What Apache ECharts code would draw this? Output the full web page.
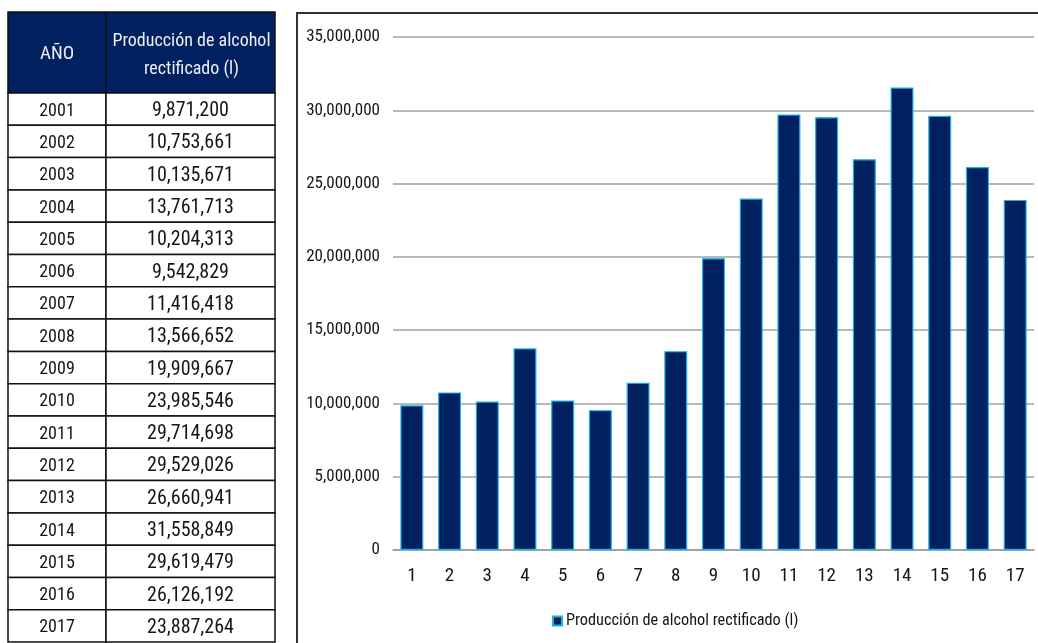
<!DOCTYPE html>
<html>
<head>
<meta charset="utf-8">
<title>Producción de alcohol rectificado</title>
<script src="https://cdn.jsdelivr.net/npm/echarts@6/dist/echarts.min.js"></script>
<style>
  html, body { margin: 0; padding: 0; background: #ffffff; }
  #chart { width: 1038px; height: 643px; }
</style>
</head>
<body>
<div id="chart"></div>
<script>
// Annual production of rectified alcohol (litres), 2001-2017
const years = [2001, 2002, 2003, 2004, 2005, 2006, 2007, 2008, 2009, 2010, 2011, 2012, 2013, 2014, 2015, 2016, 2017];
const production = [9871200, 10753661, 10135671, 13761713, 10204313, 9542829, 11416418, 13566652, 19909667, 23985546, 29714698, 29529026, 26660941, 31558849, 29619479, 26126192, 23887264];
const barLabels = ['1', '2', '3', '4', '5', '6', '7', '8', '9', '10', '11', '12', '13', '14', '15', '16', '17'];
const headerYear = 'AÑO';
const headerValue = ['Producción de alcohol', 'rectificado (l)'];
const seriesName = 'Producción de alcohol rectificado (l)';

// narrow sans: Roboto drawn with its condensed width
const FAMILY = 'Roboto';
const STRETCH = 'condensed';
const font = size => STRETCH + ' ' + size + 'px ' + FAMILY;
const NAVY = '#002060';
const EDGE = '#19b4ea';
const INK = '#161616';
const fmt = v => Number(v).toLocaleString('en-US');

// ---- data table on the left ----
const tbl = { left: 8, mid: 106, right: 275, top: 12, headBottom: 93, rowH: 32.3 };
const tableEls = [];
tableEls.push({
  type: 'rect',
  shape: { x: tbl.left, y: tbl.top, width: tbl.right - tbl.left, height: tbl.headBottom - tbl.top },
  style: { fill: NAVY, stroke: '#111', lineWidth: 1.5 }
});
tableEls.push({
  type: 'line',
  shape: { x1: tbl.mid, y1: tbl.top, x2: tbl.mid, y2: tbl.headBottom },
  style: { stroke: '#111', lineWidth: 1.5 }
});
tableEls.push({
  type: 'text', x: (tbl.left + tbl.mid) / 2, y: (tbl.top + tbl.headBottom) / 2 + 2,
  style: { text: headerYear, fill: '#eceef5', font: font(19), align: 'center', verticalAlign: 'middle' }
});
headerValue.forEach((line, i) => {
  tableEls.push({
    type: 'text', x: (tbl.mid + tbl.right) / 2 + 1, y: 41 + i * 28,
    style: { text: line, fill: '#eceef5', font: font(18), align: 'center', verticalAlign: 'middle' }
  });
});
years.forEach((yr, i) => {
  const top = tbl.headBottom + i * tbl.rowH;
  tableEls.push({
    type: 'rect',
    shape: { x: tbl.left, y: top, width: tbl.mid - tbl.left, height: tbl.rowH },
    style: { fill: '#fff', stroke: '#111', lineWidth: 1.5 }
  });
  tableEls.push({
    type: 'rect',
    shape: { x: tbl.mid, y: top, width: tbl.right - tbl.mid, height: tbl.rowH },
    style: { fill: '#fff', stroke: '#111', lineWidth: 1.5 }
  });
  tableEls.push({
    type: 'text', x: (tbl.left + tbl.mid) / 2, y: top + tbl.rowH / 2 + 2,
    style: { text: String(yr), fill: INK, font: font(18), align: 'center', verticalAlign: 'middle' }
  });
  tableEls.push({
    type: 'text', x: (tbl.mid + tbl.right) / 2, y: top + tbl.rowH / 2 + 2,
    style: { text: fmt(production[i]), fill: INK, font: font(20), align: 'center', verticalAlign: 'middle' }
  });
});

// chart frame on the right
tableEls.push({
  type: 'rect', z: -10,
  shape: { x: 297, y: 13, width: 800, height: 700 },
  style: { fill: '#fff', stroke: '#333', lineWidth: 2 }
});

const labelFont = { fontFamily: FAMILY, fontWeight: STRETCH, color: INK };

const chart = echarts.init(document.getElementById('chart'), null, { renderer: 'canvas' });
chart.setOption({
  animation: false,
  backgroundColor: '#ffffff',
  graphic: { elements: tableEls },
  grid: { left: 393, right: 4, top: 37, bottom: 93, containLabel: false },
  legend: {
    data: [seriesName],
    left: 547, top: 608,
    itemWidth: 9, itemHeight: 9, itemGap: 4,
    icon: 'rect',
    textStyle: Object.assign({ fontSize: 16.3, padding: [0, 0, 0, -1] }, labelFont)
  },
  xAxis: {
    type: 'category',
    data: barLabels,
    axisLine: { lineStyle: { color: '#9a9a9a', width: 1.5 } },
    axisTick: { show: false },
    axisLabel: Object.assign({ fontSize: 19, margin: 17 }, labelFont)
  },
  yAxis: {
    type: 'value',
    min: 0, max: 35000000, interval: 5000000,
    axisLine: { show: false },
    axisTick: { show: false },
    splitLine: { lineStyle: { color: '#a0a0a0', width: 1.5 } },
    axisLabel: Object.assign({ fontSize: 17, margin: 13, formatter: v => fmt(v) }, labelFont)
  },
  series: [{
    name: seriesName,
    type: 'bar',
    data: production,
    barCategoryGap: '39%',
    itemStyle: { color: NAVY, borderColor: EDGE, borderWidth: 1.2 }
  }]
});
</script>
</body>
</html>
